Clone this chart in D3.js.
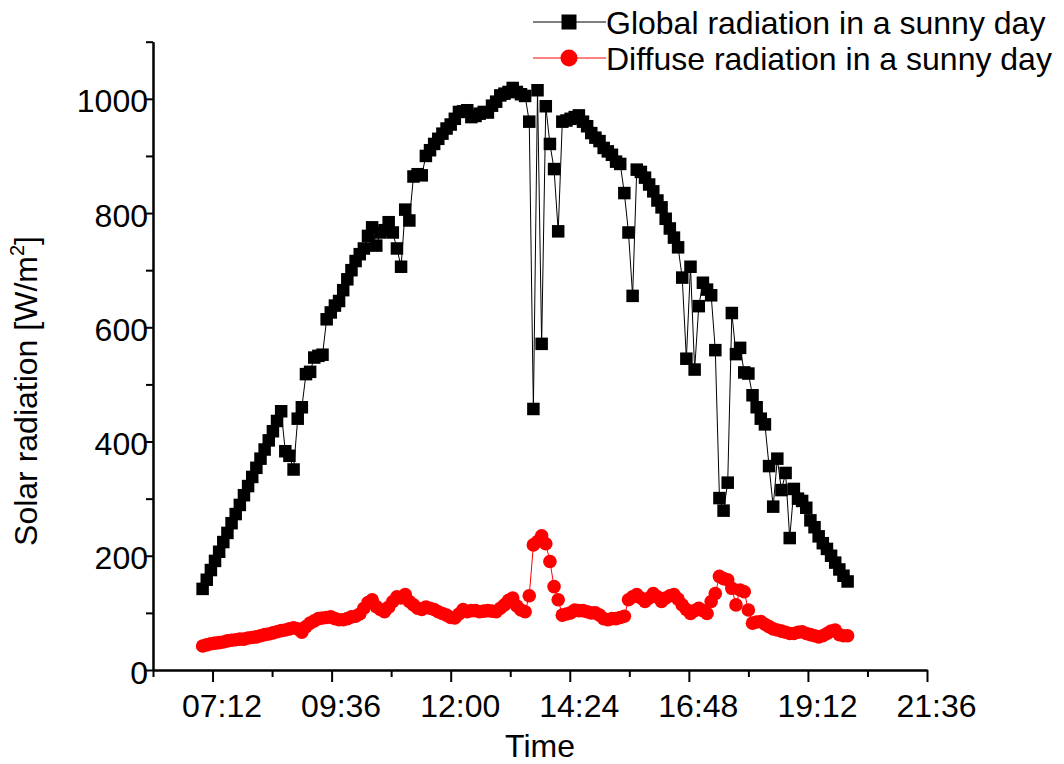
<!DOCTYPE html>
<html>
<head>
<meta charset="utf-8">
<script src="https://cdn.jsdelivr.net/npm/d3@7"></script>
<style>
  body { margin: 0; background: #fff; }
  svg { display: block; font-family: 'Liberation Sans', Arial, sans-serif; }
  .axis path, .axis line { stroke: #000; stroke-width: 2; }
  .axis text { font-size: 32px; fill: #000; }
  .label { font-size: 32px; fill: #000; }
</style>
</head>
<body>
<svg></svg>
<script>
const w = 1064
const h = 764

// x axis ticks (labelled and minor)
const timeTicks = ['07:12', '09:36', '12:00', '14:24', '16:48', '19:12', '21:36']
const minorTimeTicks = ['06:00', '08:24', '10:48', '13:12', '15:36', '18:00', '20:24']
const yTicks = [0, 200, 400, 600, 800, 1000]
const yMinorTicks = [100, 300, 500, 700, 900, 1100]

// samples every 5 minutes starting 07:00
const startTime = '07:00'
const stepMinutes = 5

const seriesNames = ['Global radiation in a sunny day', 'Diffuse radiation in a sunny day']

const globalRad = [
  142, 158, 175, 191, 207, 224, 240, 257, 273, 289,
  306, 322, 338, 354, 370, 386, 402, 418, 436, 453,
  383, 375, 351, 440, 460, 518, 522, 547, 550, 552,
  614, 626, 638, 646, 665, 684, 700, 716, 728, 738,
  760, 775, 743, 766, 770, 784, 766, 738, 706, 806,
  787, 864, 868, 866, 900, 910, 921, 930, 939, 948,
  955, 965, 977, 978, 980, 968, 970, 974, 977, 976,
  988, 995, 1006, 1009, 1012, 1019, 1012, 1008, 1005, 960,
  457, 1015, 571, 987, 921, 877, 768, 960, 962, 965,
  968, 971, 960, 952, 940, 932, 926, 914, 908, 902,
  890, 886, 835, 766, 655, 876, 872, 862, 850, 838,
  822, 810, 790, 773, 757, 740, 687, 545, 706, 526,
  637, 678, 666, 656, 560, 301, 279, 328, 625, 553,
  564, 521, 519, 481, 460, 440, 430, 357, 286, 370,
  315, 345, 231, 317, 300, 296, 284, 262, 250, 234,
  222, 212, 200, 188, 176, 165, 155
]

const diffuseRad = [
  42, 44, 46, 47, 48, 49, 51, 52, 53, 54,
  54, 56, 57, 58, 60, 62, 63, 65, 67, 69,
  70, 72, 74, 72, 66, 76, 82, 86, 90, 91,
  92, 93, 90, 88, 88, 90, 93, 94, 98, 108,
  118, 123, 111, 106, 102, 110, 120, 128, 126, 132,
  120, 114, 108, 106, 110, 108, 106, 102, 99, 96,
  92, 91, 98, 106, 102, 104, 104, 102, 103, 104,
  103, 102, 108, 114, 122, 126, 112, 105, 102, 130,
  219, 225, 235, 221, 190, 146, 123, 96, 98, 100,
  105, 104, 104, 102, 100, 100, 96, 90, 88, 90,
  90, 92, 94, 123, 128, 132, 126, 120, 126, 134,
  128, 120, 126, 130, 132, 124, 114, 106, 99, 104,
  108, 104, 99, 120, 134, 164, 160, 158, 143, 114,
  140, 137, 105, 82, 84, 85, 80, 76, 72, 70,
  68, 66, 64, 64, 66, 67, 64, 62, 60, 58,
  60, 64, 68, 70, 62, 60, 60
]

const parseT = d3.timeParse('%H:%M')
const t0 = parseT(startTime)
const toRows = vals => vals.map((v, i) => ({ t: d3.timeMinute.offset(t0, i * stepMinutes), v }))
const globalData = toRows(globalRad)
const diffuseData = toRows(diffuseRad)

const svg = d3.select('svg')
  .attr('width', w)
  .attr('height', h)

const xScale = d3.scaleTime()
  .domain([parseT('06:00'), parseT('21:36')])
  .range([153, 927])

const yScale = d3.scaleLinear()
  .domain([0, 1100])
  .range([670, 41.7])

// minor ticks first, then main axes on top
const xMinor = d3.axisBottom(xScale)
  .tickValues(minorTimeTicks.map(parseT))
  .tickSize(7)
  .tickSizeOuter(0)
  .tickFormat('')
svg.append('g').attr('class', 'axis')
  .attr('transform', 'translate(0,670)')
  .call(xMinor)

const xAxis = d3.axisBottom(xScale)
  .tickValues(timeTicks.map(parseT))
  .tickSize(12)
  .tickSizeOuter(0)
  .tickFormat(d3.timeFormat('%H:%M'))
const xAxisG = svg.append('g').attr('class', 'axis')
  .attr('transform', 'translate(0,670)')
  .call(xAxis)
xAxisG.selectAll('text').attr('dx', 9).attr('y', 47).attr('dy', null)

const yMinor = d3.axisLeft(yScale)
  .tickValues(yMinorTicks)
  .tickSize(7)
  .tickSizeOuter(0)
  .tickFormat('')
svg.append('g').attr('class', 'axis')
  .attr('transform', 'translate(153,0)')
  .call(yMinor)

const yAxis = d3.axisLeft(yScale)
  .tickValues(yTicks)
  .tickSize(7)
  .tickSizeOuter(0)
  .tickFormat(d3.format('d'))
const yAxisG = svg.append('g').attr('class', 'axis')
  .attr('transform', 'translate(153,0)')
  .call(yAxis)
yAxisG.selectAll('text').attr('x', -5).attr('dy', null).attr('y', 13)

// axis titles
svg.append('text').attr('class', 'label')
  .attr('x', 540).attr('y', 757)
  .attr('text-anchor', 'middle')
  .text('Time')

const yTitle = svg.append('text').attr('class', 'label')
  .attr('transform', 'translate(37,391) rotate(-90)')
  .attr('text-anchor', 'middle')
yTitle.append('tspan').text('Solar radiation [W/m')
yTitle.append('tspan').attr('font-size', '20px').attr('dy', -13).text('2')
yTitle.append('tspan').attr('dy', 13).text(']')

// series
const lineGen = d3.line()
  .x(d => xScale(d.t))
  .y(d => yScale(d.v))

const sq = 12.5
svg.append('path')
  .attr('d', lineGen(globalData))
  .attr('fill', 'none')
  .attr('stroke', '#000')
  .attr('stroke-width', 1)
svg.append('g').selectAll('rect').data(globalData)
  .enter().append('rect')
  .attr('x', d => xScale(d.t) - sq / 2)
  .attr('y', d => yScale(d.v) - sq / 2)
  .attr('width', sq)
  .attr('height', sq)
  .attr('fill', '#000')

svg.append('path')
  .attr('d', lineGen(diffuseData))
  .attr('fill', 'none')
  .attr('stroke', '#ff0000')
  .attr('stroke-width', 1)
svg.append('g').selectAll('circle').data(diffuseData)
  .enter().append('circle')
  .attr('cx', d => xScale(d.t))
  .attr('cy', d => yScale(d.v))
  .attr('r', 6.8)
  .attr('fill', '#ff0000')

// legend
const legend = svg.append('g')
const rows = [
  { name: seriesNames[0], color: '#000', y: 22, shape: 'square' },
  { name: seriesNames[1], color: '#ff0000', y: 58, shape: 'circle' }
]
rows.forEach(r => {
  legend.append('line')
    .attr('x1', 533).attr('x2', 606)
    .attr('y1', r.y).attr('y2', r.y)
    .attr('stroke', r.color)
    .attr('stroke-width', 1)
  if (r.shape === 'square') {
    legend.append('rect')
      .attr('x', 569 - 7.5).attr('y', r.y - 7.5)
      .attr('width', 15).attr('height', 15)
      .attr('fill', r.color)
  } else {
    legend.append('circle')
      .attr('cx', 569).attr('cy', r.y)
      .attr('r', 8.5)
      .attr('fill', r.color)
  }
  legend.append('text').attr('class', 'label')
    .attr('x', 606).attr('y', r.y + 11.5)
    .text(r.name)
})
</script>
</body>
</html>
